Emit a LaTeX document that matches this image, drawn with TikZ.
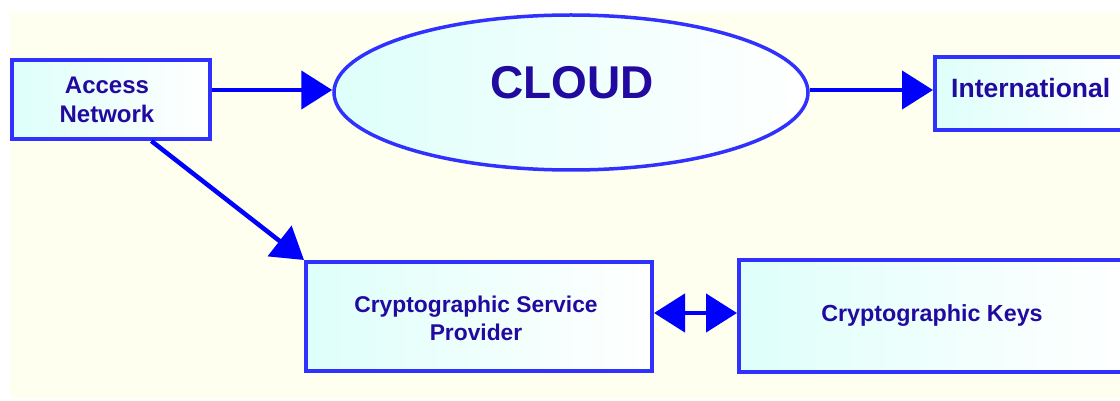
\documentclass[tikz,border=0pt]{standalone}
\usepackage{fontspec}
\setmainfont{Liberation Sans}
\usetikzlibrary{shapes.geometric,arrows.meta,calc}

\definecolor{edgeblue}{RGB}{48,48,255}
\definecolor{arrowblue}{RGB}{0,0,255}
\definecolor{textblue}{RGB}{34,10,160}
\definecolor{paper}{RGB}{255,255,240}
\definecolor{boxcyan}{RGB}{222,255,250}

\begin{document}
\begin{tikzpicture}[x=1pt,y=-1pt,
  panel/.style={rectangle, draw=edgeblue, line width=4pt,
    left color=boxcyan, right color=white, inner sep=0pt,
    text=textblue, font=\fontsize{24}{29}\selectfont\bfseries},
  oval/.style={ellipse, draw=edgeblue, line width=3.5pt,
    left color=boxcyan, right color=white, inner sep=0pt},
  caption/.style={text=textblue, inner sep=0pt},
  link/.style={draw=arrowblue, line width=4.5pt,
    -{Triangle[length=31pt,width=38pt]}},
  twoway/.style={draw=arrowblue, line width=4.5pt,
    {Triangle[length=31pt,width=38pt]}-{Triangle[length=31pt,width=38pt]}}
]
\useasboundingbox (0,0) rectangle (1120,401);
\clip (0,0) rectangle (1120,401);

% page background
\fill[paper] (10,13) rectangle (1120,398);

% boxes
\node[panel, minimum width=198pt, minimum height=79pt]
  (access) at (111,99.5) {};
\node[caption, align=center, font=\fontsize{24}{29}\selectfont\bfseries]
  (accesstext) at (107,99.5) {Access\\Network};
\node[oval, minimum width=474pt, minimum height=155pt]
  (cloud) at (571,92.5) {};
\node[caption, font=\fontsize{46}{46}\selectfont\bfseries]
  (cloudtext) at (572,83) {CLOUD};
\node[panel, minimum width=195pt, minimum height=73pt]
  (intl) at (1032.5,93.5) {};
\node[caption, anchor=west, font=\fontsize{26.5}{26.5}\selectfont\bfseries]
  (intltext) at (951,88) {International};
\node[panel, minimum width=346pt, minimum height=109pt]
  (csp) at (479,316.5) {};
\node[caption, align=center, font=\fontsize{22.8}{28}\selectfont\bfseries]
  (csptext) at (476,318) {Cryptographic Service\\Provider};
\node[panel, minimum width=386pt, minimum height=112pt,
  font=\fontsize{23.3}{28}\selectfont\bfseries]
  (keys) at (932,316) {Cryptographic Keys};

% connectors
\draw[link] (access.east |- 0,90) -- (cloud.west |- 0,90);
\draw[link] (cloud.east |- 0,90) -- (intl.west |- 0,90);
\draw[link] ($(access.south west)!0.7!(access.south east)$) -- (csp.north west);
\draw[twoway] (csp.east |- 0,313) -- (keys.west |- 0,313);
\end{tikzpicture}
\end{document}
